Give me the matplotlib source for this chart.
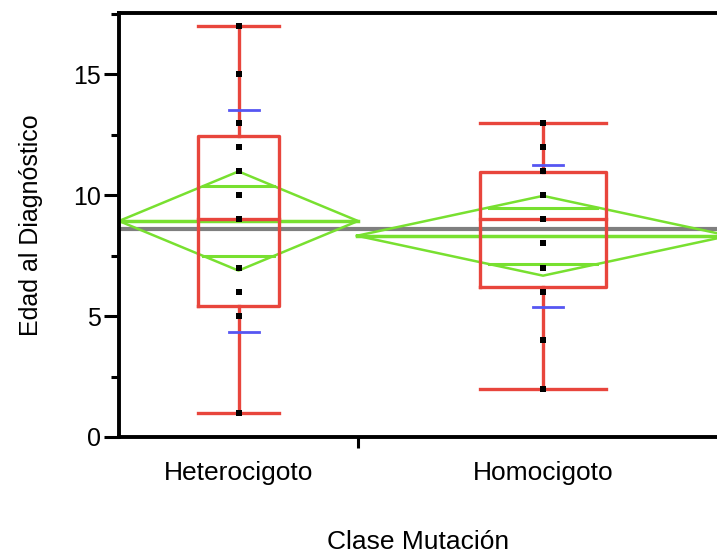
import numpy as np
import matplotlib
matplotlib.use("Agg")
import matplotlib.pyplot as plt

plt.rcParams['font.family'] = ['Liberation Sans', 'DejaVu Sans']

# data
groups = ["Heterocigoto", "Homocigoto"]
het_points = [17, 15, 13, 12, 11, 10, 9, 7, 6, 5, 1]
hom_points = [13, 12, 11, 10, 9, 8, 7, 6, 4, 2]
whisker_lo = [1, 2]
q1 = [5.4, 6.2]
median = [9.0, 9.0]
q3 = [12.45, 10.95]
whisker_hi = [17, 13]
means = [8.93, 8.32]
ci_half = [2.05, 1.65]
std_dev = [4.59, 2.93]
grand_mean = 8.61

# layout (x in pixel-like units, group widths as in JMP)
group_left = [0, 238]
group_width = [239, 372]
box_frac = 0.34
sd_width = 30
sd_shift = 5

RED = "#e8453c"
GREEN = "#78e030"
BLUE = "#5656f2"
GRAY = "#7f7f7f"

fig = plt.figure(figsize=(7.17, 5.56), dpi=100)
ax = fig.add_axes([119 / 717, 119 / 556, 598 / 717, 424.5 / 556])

ax.axhline(grand_mean, color=GRAY, lw=3, zorder=1)

all_points = [het_points, hom_points]
for i in range(2):
    left = group_left[i]
    w = group_width[i]
    c = left + w / 2
    m = means[i]
    h = ci_half[i]
    # means diamond
    ax.plot([left, c, left + w, c, left], [m, m + h, m, m - h, m],
            color=GREEN, lw=1.8, zorder=2)
    ax.plot([left, left + w], [m, m], color=GREEN, lw=2.5, zorder=2)
    ov = h / np.sqrt(2)
    hw = (w / 2) * (1 - ov / h)
    for y in (m + ov, m - ov):
        ax.plot([c - hw, c + hw], [y, y], color=GREEN, lw=2.2, zorder=2)
    # box plot
    bw = w * box_frac
    ax.plot([c - bw / 2, c + bw / 2, c + bw / 2, c - bw / 2, c - bw / 2],
            [q1[i], q1[i], q3[i], q3[i], q1[i]], color=RED, lw=2.4, zorder=3)
    ax.plot([c - bw / 2, c + bw / 2], [median[i]] * 2, color=RED, lw=2.4, zorder=3)
    ax.plot([c, c], [whisker_lo[i], q1[i]], color=RED, lw=2.4, zorder=3)
    ax.plot([c, c], [q3[i], whisker_hi[i]], color=RED, lw=2.4, zorder=3)
    for y in (whisker_lo[i], whisker_hi[i]):
        ax.plot([c - bw / 2, c + bw / 2], [y, y], color=RED, lw=2.4, zorder=3)
    # std dev lines
    sc = c + sd_shift
    for y in (m + std_dev[i], m - std_dev[i]):
        ax.plot([sc - sd_width / 2, sc + sd_width / 2], [y, y], color=BLUE, lw=2, zorder=4)
    # points
    ax.plot([c] * len(all_points[i]), all_points[i], 's', color='black',
            ms=4.2, mew=0, zorder=5)

ax.set_xlim(0, 598)
ax.set_ylim(0, 17.55)

for side in ['left', 'top', 'bottom']:
    ax.spines[side].set_linewidth(2.8)
ax.spines['right'].set_visible(False)

ax.set_yticks([0, 5, 10, 15])
ax.set_yticks([2.5, 7.5, 12.5, 17.5], minor=True)
ax.tick_params(axis='y', which='major', length=11, width=2.2, labelsize=18, pad=2)
ax.tick_params(axis='y', which='minor', length=6, width=2.2)

centers = [group_left[i] + group_width[i] / 2 for i in range(2)]
ax.set_xticks([238.5])
ax.set_xticklabels([''])
ax.tick_params(axis='x', which='major', length=8, width=2.2)
ax.set_xticks(centers, minor=True)
ax.set_xticklabels(groups, minor=True)
ax.tick_params(axis='x', which='minor', length=0, labelsize=19, pad=17)

ax.set_ylabel("Edad al Diagnóstico", fontsize=18, labelpad=22)
ax.set_xlabel("Clase Mutación", fontsize=19, labelpad=33)

fig.savefig("out.png", dpi=100)
